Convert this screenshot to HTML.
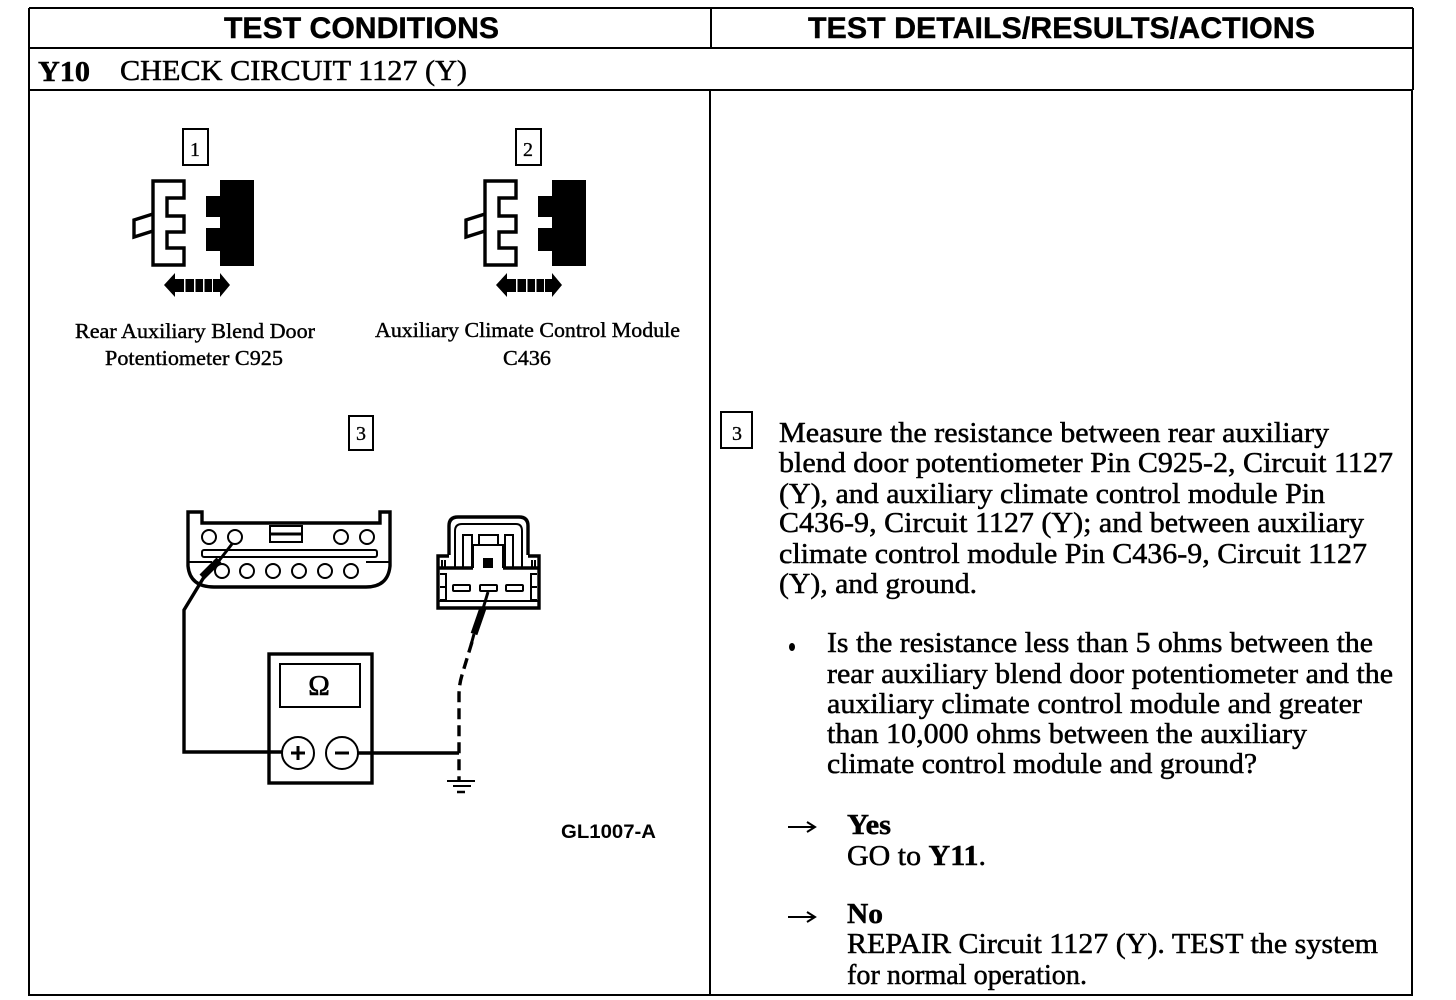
<!DOCTYPE html>
<html><head><meta charset="utf-8"><style>
html,body{margin:0;padding:0;background:#fff;width:1456px;height:1000px;overflow:hidden}
svg{display:block}
.s{font-family:"Liberation Serif",serif;font-size:29px;fill:#000;stroke:#000;stroke-width:.5}
.l{font-family:"Liberation Serif",serif;font-size:21px;fill:#000;stroke:#000;stroke-width:.4}
.h{font-family:"Liberation Sans",sans-serif;font-size:30px;font-weight:bold;fill:#000;stroke:#000;stroke-width:.4}
.n{font-family:"Liberation Serif",serif;font-size:20px;fill:#000;stroke:#000;stroke-width:.3;text-anchor:middle}
.ln{fill:none;stroke:#000;stroke-width:2}
.th{fill:none;stroke:#000;stroke-width:3.4}
</style></head><body>
<svg width="1456" height="1000" viewBox="0 0 1456 1000" xmlns="http://www.w3.org/2000/svg">
<defs>
<g id="conn">
<path class="th" d="M153 181H184V198H167V216H184V232H167V248H184V265H153Z"/>
<path class="th" d="M153 214L134 220V237L153 231"/>
<path d="M220 180H254V266H220V251H206V228H220V217H206V196H220Z" fill="#000"/>
<path d="M164 285L175 273V279H220V273L230 285L220 297V292H175V297Z" fill="#000"/>
<path d="M184 279h1.500v13h-1.500zM194 279h1.500v13h-1.500zM203 279h1.500v13h-1.500zM212 279h1v13h-1z" fill="#fff"/>
</g>
</defs>

<!-- table -->
<g stroke="#000" fill="none">
<path d="M29 8H1413" stroke-width="2"/>
<path d="M29 48H1413" stroke-width="2"/>
<path d="M29 90H1413" stroke-width="2"/>
<path d="M28 995H1413" stroke-width="2"/>
<path d="M29 8V995" stroke-width="2"/>
<path d="M1413 8V90" stroke-width="2"/>
<path d="M1412 90V995" stroke-width="2"/>
<path d="M711 8V48" stroke-width="2"/>
<path d="M710 90V995" stroke-width="2"/>
</g>

<text class="h" x="224" y="38" textLength="275" lengthAdjust="spacingAndGlyphs">TEST CONDITIONS</text>
<text class="h" x="808" y="38" textLength="507" lengthAdjust="spacingAndGlyphs">TEST DETAILS/RESULTS/ACTIONS</text>
<text class="s" x="38" y="81" textLength="52" lengthAdjust="spacingAndGlyphs" style="font-weight:bold">Y10</text>
<text class="s" x="120" y="80" textLength="347" lengthAdjust="spacingAndGlyphs">CHECK CIRCUIT 1127 (Y)</text>

<!-- connector 1 -->
<rect class="ln" x="183" y="129" width="25" height="36"/>
<text class="n" x="195" y="156">1</text>
<use href="#conn"/>
<!-- connector 2 -->
<rect class="ln" x="516" y="129" width="25" height="36"/>
<text class="n" x="528" y="156">2</text>
<use href="#conn" x="332"/>

<text class="l" x="75" y="338" textLength="240" lengthAdjust="spacingAndGlyphs">Rear Auxiliary Blend Door</text>
<text class="l" x="105" y="365" textLength="178" lengthAdjust="spacingAndGlyphs">Potentiometer C925</text>
<text class="l" x="375" y="337" textLength="305" lengthAdjust="spacingAndGlyphs">Auxiliary Climate Control Module</text>
<text class="l" x="503" y="365" textLength="48" lengthAdjust="spacingAndGlyphs">C436</text>

<rect class="ln" x="349" y="416" width="24" height="34"/>
<text class="n" x="361" y="440">3</text>

<!-- left plug -->
<path class="th" d="M188 512H202V523H380V512H390V566Q388 587 366 587H214Q190 587 188 566Z"/>
<g class="ln">
<circle cx="209" cy="537" r="7"/><circle cx="235" cy="537" r="7"/>
<circle cx="341" cy="537" r="7"/><circle cx="367" cy="537" r="7"/>
<rect x="270" y="526" width="32" height="16"/><path d="M270 534H302" stroke-width="3"/>
<rect x="202" y="550" width="175" height="7" rx="2"/>
<path d="M188 562H212M366 562H390"/>
<circle cx="222" cy="571" r="7"/><circle cx="247" cy="571" r="7"/><circle cx="273" cy="571" r="7"/>
<circle cx="299" cy="571" r="7"/><circle cx="325" cy="571" r="7"/><circle cx="351" cy="571" r="7"/>
</g>
<path d="M232 544L218 562" stroke="#000" stroke-width="3" fill="none"/>
<path d="M219 560L202 577" stroke="#000" stroke-width="7" fill="none"/>
<path d="M204 577L184 610V752H282" class="th"/>

<!-- right plug -->
<path class="th" d="M449 555V526Q449 517 458 517H519Q528 517 528 526V555"/>
<path class="th" d="M473 568H438V556H449M503 568H539V556H528M438 568V608H539V568"/>
<path class="ln" d="M455 568V531Q455 524 462 524H516Q522 524 522 531V568"/>
<path class="ln" d="M463 568V535H472V568M505 568V535H513V568M473 568V545H503V568M479 545V535H498V545"/>
<path class="ln" d="M442 560V568M445 560V568M532 560V568M535 560V568"/>
<path class="ln" d="M440 574H446V600H440M440 587H446M537 574H531V600H537M531 587H537M438 601H539"/>
<rect x="483" y="558" width="10" height="10" fill="#000"/>
<rect class="ln" x="453" y="585" width="17" height="6" rx="1"/>
<rect class="ln" x="480" y="585" width="17" height="6" rx="1"/>
<rect class="ln" x="506" y="585" width="17" height="6" rx="1"/>
<path d="M488 592L482 612" stroke="#000" stroke-width="3" fill="none"/>
<path d="M483 608L474 634" stroke="#000" stroke-width="7" fill="none"/>
<path d="M474 634L471 645" stroke="#000" stroke-width="3" fill="none"/>

<!-- meter -->
<rect class="th" x="269" y="654" width="103" height="129"/>
<rect class="ln" x="280" y="664" width="80" height="43"/>
<text x="319" y="695" font-family="'Liberation Serif',serif" font-size="29" text-anchor="middle" stroke="#000" stroke-width=".6">Ω</text>
<circle class="ln" cx="298" cy="753" r="16" fill="#fff"/>
<circle class="ln" cx="342" cy="753" r="16"/>
<path d="M291 753H305M298 746V760M335 753H349" stroke="#000" stroke-width="3" fill="none"/>
<path class="th" d="M358 753H459"/>
<path d="M472 642L462 675Q459 685 459 695V780" fill="none" stroke="#000" stroke-width="3.4" stroke-dasharray="11 6"/>
<path d="M447 781H475M453 786H471" stroke="#000" stroke-width="2" fill="none"/>
<path d="M457 792H465" stroke="#000" stroke-width="2.500" fill="none"/>

<text x="561" y="838" font-family="'Liberation Sans',sans-serif" font-weight="bold" font-size="19" textLength="95" lengthAdjust="spacingAndGlyphs">GL1007-A</text>

<!-- right column -->
<rect class="ln" x="721" y="412" width="31" height="36"/>
<text class="n" x="737" y="440">3</text>

<text class="s" x="779" y="442" textLength="550" lengthAdjust="spacingAndGlyphs">Measure the resistance between rear auxiliary</text>
<text class="s" x="779" y="472" textLength="614" lengthAdjust="spacingAndGlyphs">blend door potentiometer Pin C925-2, Circuit 1127</text>
<text class="s" x="779" y="503" textLength="546" lengthAdjust="spacingAndGlyphs">(Y), and auxiliary climate control module Pin</text>
<text class="s" x="779" y="532" textLength="585" lengthAdjust="spacingAndGlyphs">C436-9, Circuit 1127 (Y); and between auxiliary</text>
<text class="s" x="779" y="563" textLength="588" lengthAdjust="spacingAndGlyphs">climate control module Pin C436-9, Circuit 1127</text>
<text class="s" x="779" y="593" textLength="198" lengthAdjust="spacingAndGlyphs">(Y), and ground.</text>

<ellipse cx="792" cy="647" rx="3" ry="4" fill="#000"/>
<text class="s" x="827" y="652" textLength="546" lengthAdjust="spacingAndGlyphs">Is the resistance less than 5 ohms between the</text>
<text class="s" x="827" y="683" textLength="566" lengthAdjust="spacingAndGlyphs">rear auxiliary blend door potentiometer and the</text>
<text class="s" x="827" y="713" textLength="535" lengthAdjust="spacingAndGlyphs">auxiliary climate control module and greater</text>
<text class="s" x="827" y="743" textLength="480" lengthAdjust="spacingAndGlyphs">than 10,000 ohms between the auxiliary</text>
<text class="s" x="827" y="773" textLength="430" lengthAdjust="spacingAndGlyphs">climate control module and ground?</text>

<path d="M788 827H814M807 822L815 827L807 832" fill="none" stroke="#000" stroke-width="2"/>
<text class="s" x="847" y="834" textLength="44" lengthAdjust="spacingAndGlyphs" style="font-weight:bold">Yes</text>
<text class="s" x="847" y="865" textLength="139" lengthAdjust="spacingAndGlyphs">GO to <tspan font-weight="bold">Y11</tspan>.</text>

<path d="M788 917H814M807 912L815 917L807 922" fill="none" stroke="#000" stroke-width="2"/>
<text class="s" x="847" y="923" textLength="36" lengthAdjust="spacingAndGlyphs" style="font-weight:bold">No</text>
<text class="s" x="847" y="953" textLength="531" lengthAdjust="spacingAndGlyphs">REPAIR Circuit 1127 (Y). TEST the system</text>
<text class="s" x="847" y="984" textLength="240" lengthAdjust="spacingAndGlyphs">for normal operation.</text>
</svg>
</body></html>
